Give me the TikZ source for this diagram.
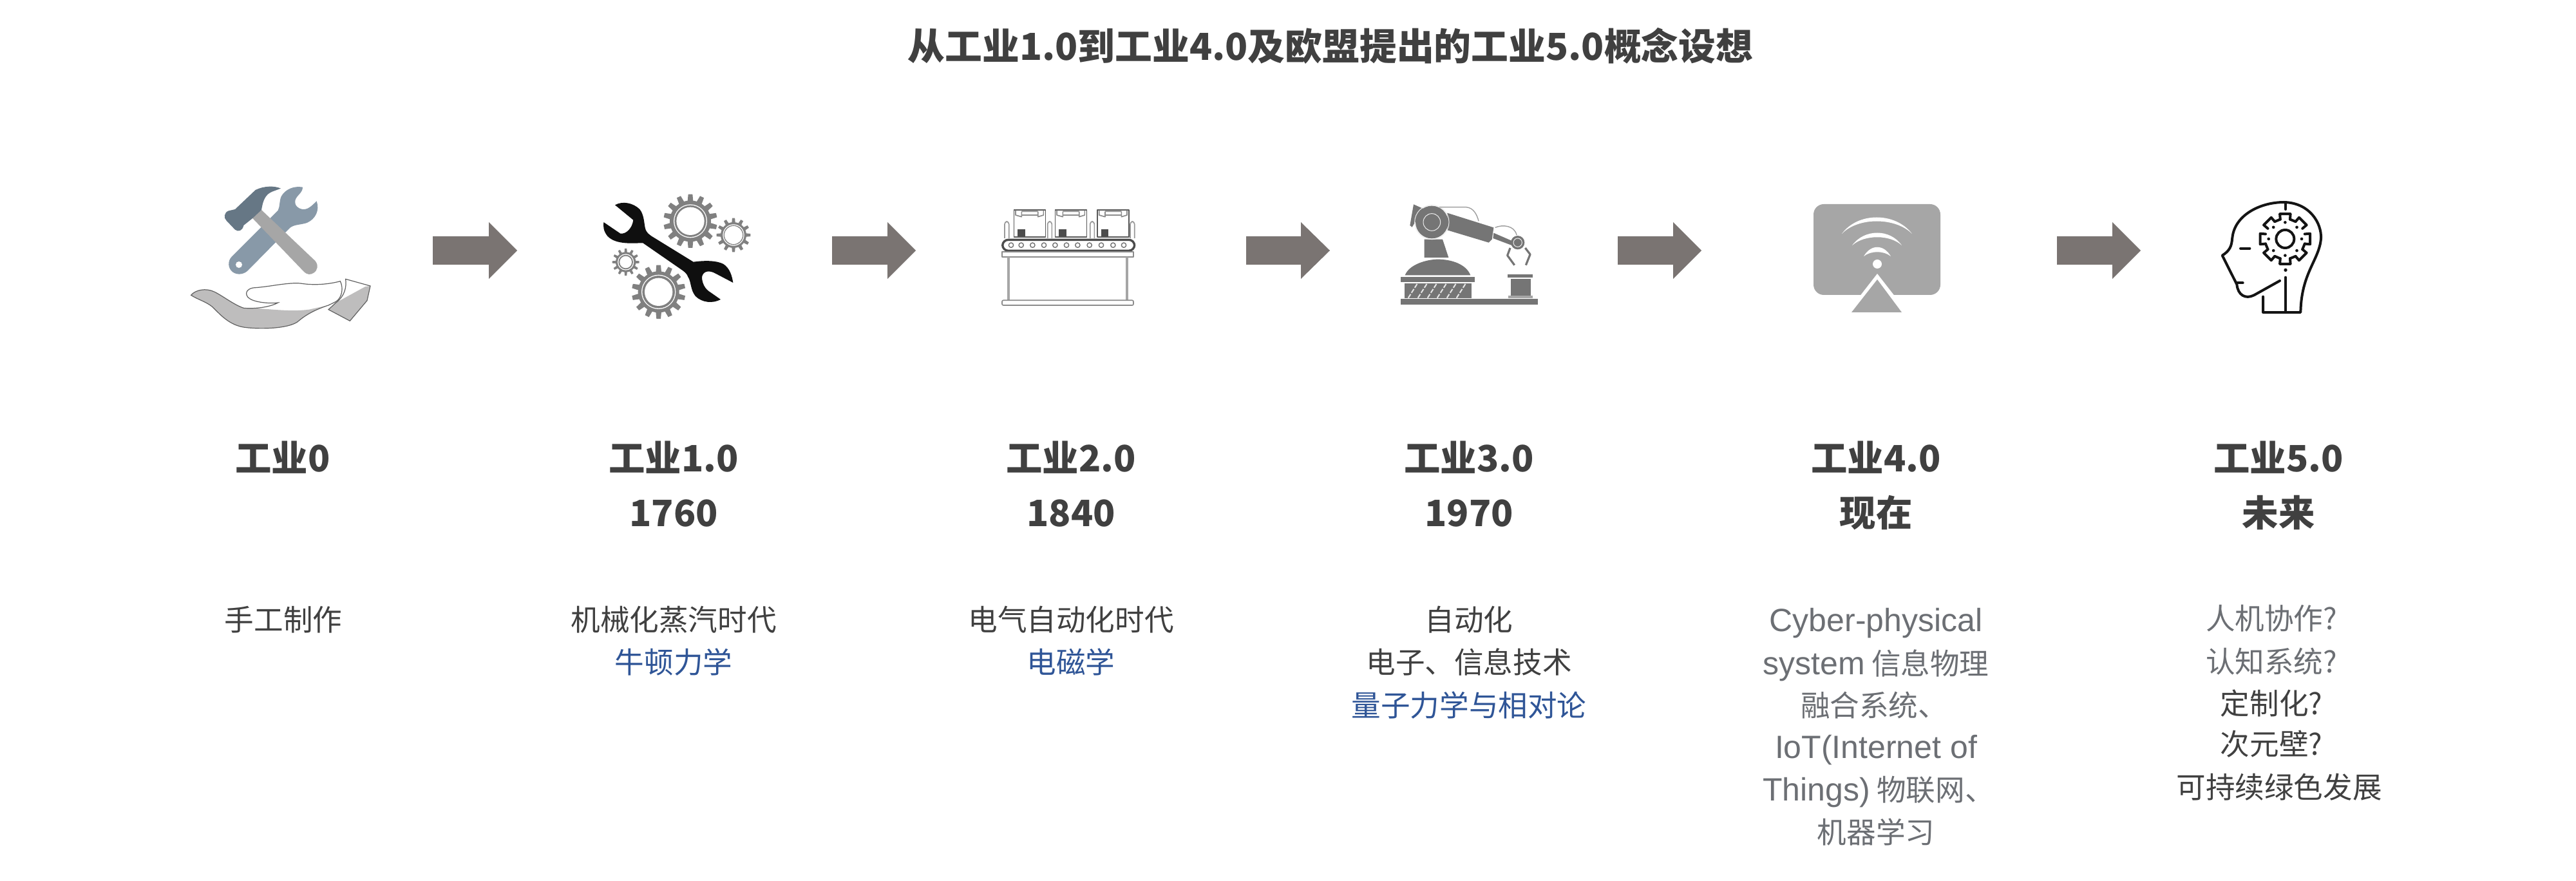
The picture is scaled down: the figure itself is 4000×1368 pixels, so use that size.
\documentclass[tikz,border=0pt]{standalone}
\usepackage{fontspec}
\usetikzlibrary{calc}
\setmainfont{Noto Sans CJK SC}
\newfontfamily\latinlight{Liberation Sans}
\definecolor{titlec}{HTML}{404040}
\definecolor{bodyc}{HTML}{404040}
\definecolor{bluec}{HTML}{2F5597}
\definecolor{grayc}{HTML}{6C6F74}
\definecolor{arrowc}{HTML}{7A7472}
\definecolor{wrenchc}{HTML}{8899A8}
\definecolor{hammerc}{HTML}{667785}
\definecolor{handlec}{HTML}{A6A6A6}
\definecolor{handc}{HTML}{BEBDBD}
\definecolor{gearc}{HTML}{808080}
\definecolor{robotc}{HTML}{757575}
\tikzset{
  titletext/.style={anchor=base,inner sep=0pt,text=titlec,font=\fontsize{28.9}{30}\selectfont\bfseries},
  headtext/.style={anchor=base,inner sep=0pt,text=titlec,font=\fontsize{28.2}{30}\selectfont\bfseries},
  bodytext/.style={anchor=base,inner sep=0pt,text=bodyc,font=\fontsize{22.8}{24}\selectfont},
  bluetext/.style={bodytext,text=bluec},
  graytext/.style={bodytext,text=grayc},
  blockarrow/.style={fill=arrowc,draw=none},
  zoomed/.style={x=0.16667pt,y=-0.16667pt},
  outlinegray/.style={draw=black!62,line width=0.6pt},
  convline/.style={draw=#1,line width=0.85pt,line join=round},
  headline/.style={draw=black!92,line width=2pt,line cap=round,line join=round},
}
\newcommand\lat[1]{{\latinlight\fontsize{25}{26}\selectfont #1}}
\newcommand\blockarrowat[3]{\fill[blockarrow] (#1,367) -- (#2,367) -- (#2,345) -- (#3,389) -- (#2,433) -- (#2,411) -- (#1,411) -- cycle;}
% cx cy R root ring hole teeth
\newcommand\gearglyph[7]{%
  \begin{scope}[shift={(#1,#2)}]
    \fill[gearc] (0,0) circle (#4);
    \foreach \t in {1,...,#7}{%
      \pgfmathsetmacro\ang{\t*360/#7}%
      \pgfmathsetmacro\wa{0.135*#4}%
      \pgfmathsetmacro\wb{0.105*#4}%
      \pgfmathsetmacro\ra{#4-3}%
      \fill[gearc,rotate=\ang] (-\wa,\ra) -- (\wa,\ra) -- (\wb,#3) -- (-\wb,#3) -- cycle;
    }
    \fill[white] (0,0) circle (#5);
    \fill[gearc] (0,0) circle (#5-4);
    \fill[white] (0,0) circle (#6);
  \end{scope}}
\begin{document}
\begin{tikzpicture}[x=0.5pt,y=-0.5pt]
\useasboundingbox (0,0) rectangle (4000,1368);
\fill[white] (0,0) rectangle (4000,1368);

% title
\node[titletext] (title) at (2066,94) {从工业1.0到工业4.0及欧盟提出的工业5.0概念设想};

% arrows
\blockarrowat{672}{759}{803}
\blockarrowat{1292}{1378}{1422}
\blockarrowat{1935}{2020}{2065}
\blockarrowat{2512}{2598}{2642}
\blockarrowat{3194}{3280}{3324}

% icon 0: tools in a hand
\begin{scope}[shift={(280,270)},zoomed]
  \fill[wrenchc] (570,62) .. controls (530,55) and (490,70) .. (470,105)
     .. controls (460,130) and (465,150) .. (455,170) -- (240,385)
     .. controls (220,405) and (220,440) .. (245,458)
     .. controls (270,475) and (300,465) .. (315,450) -- (510,252)
     .. controls (530,235) and (560,238) .. (590,228)
     .. controls (630,210) and (650,170) .. (635,127)
     .. controls (620,140) and (600,165) .. (575,165)
     .. controls (550,165) and (530,145) .. (535,125)
     .. controls (540,100) and (570,90) .. (570,62) -- cycle;
  \fill[white] (273,423) circle (15);
  \fill[handlec] (335,205) -- (378,168) -- (628,405)
     .. controls (645,425) and (640,450) .. (620,462)
     .. controls (605,472) and (590,468) .. (578,458) -- cycle;
  \fill[hammerc] (468,68) .. controls (440,55) and (390,55) .. (350,75)
     -- (255,165) -- (225,172) .. controls (205,178) and (200,205) .. (215,218)
     -- (255,260) .. controls (270,272) and (290,265) .. (295,240)
     -- (335,208) -- (378,168) .. controls (385,125) and (395,95) .. (430,82) -- cycle;
  % hand
  \fill[handc] (50,565) .. controls (70,540) and (120,530) .. (160,550)
     .. controls (200,570) and (250,610) .. (295,625)
     .. controls (400,625) and (500,645) .. (600,632) -- (690,612)
     .. controls (620,635) and (580,660) .. (545,690)
     .. controls (500,720) and (380,725) .. (300,715)
     .. controls (230,705) and (190,660) .. (150,620)
     .. controls (120,595) and (80,585) .. (50,565) -- cycle;
  \draw[outlinegray] (50,565) .. controls (70,540) and (120,530) .. (160,550)
     .. controls (200,570) and (250,610) .. (295,625)
     .. controls (350,630) and (420,620) .. (455,600)
     .. controls (420,605) and (340,600) .. (315,575)
     .. controls (295,550) and (320,530) .. (350,530)
     .. controls (420,525) and (500,505) .. (560,510)
     .. controls (620,520) and (690,515) .. (745,500)
     .. controls (760,530) and (755,575) .. (725,595)
     -- (690,612)
     .. controls (620,635) and (580,660) .. (545,690)
     .. controls (500,720) and (380,725) .. (300,715)
     .. controls (230,705) and (190,660) .. (150,620)
     .. controls (120,595) and (80,585) .. (50,565) -- cycle;
  \fill[handc] (862,525) -- (885,522) -- (870,590) -- (790,685) -- (690,632) -- (725,600) -- cycle;
  \draw[outlinegray] (770,490) -- (885,522) -- (870,590) -- (790,685) -- (690,632)
     -- (725,600) .. controls (765,570) and (775,530) .. (770,490) -- cycle;
\end{scope}

% icon 1: wrench and gears
\begin{scope}[shift={(920,290)},zoomed]
  \gearglyph{456}{160}{125}{96}{78}{65}{14}
  \gearglyph{657}{225}{79}{60}{50}{42}{12}
  \gearglyph{155}{351}{63}{47}{38}{28}{12}
  \gearglyph{308}{490}{125}{96}{80}{65}{14}
  \fill[black!88!gray] (105,85) .. controls (140,65) and (190,75) .. (220,105)
     .. controls (240,130) and (240,165) .. (245,190)
     .. controls (250,215) and (265,222) .. (275,230) -- (470,350)
     .. controls (510,345) and (570,340) .. (610,360)
     .. controls (640,380) and (650,415) .. (655,447)
     -- (575,405) .. controls (540,385) and (515,395) .. (510,420)
     .. controls (510,450) and (525,478) .. (550,492) -- (597,525)
     .. controls (560,545) and (510,540) .. (480,510)
     .. controls (455,480) and (460,440) .. (445,420)
     .. controls (440,405) and (430,398) .. (420,390) -- (235,262)
     .. controls (190,262) and (110,272) .. (70,230)
     .. controls (50,205) and (50,185) .. (52,165)
     -- (130,218) .. controls (155,222) and (185,195) .. (190,155)
     -- (105,85) -- cycle;
\end{scope}

% icon 2: conveyor
\begin{scope}[shift={(1540,310)},zoomed]
  \foreach \bx in {103,295,492}{
    \draw[convline=black!65] (\bx,175) -- (\bx,48) -- ++(147,0) -- ++(0,127) -- cycle;
    \draw[convline=black!45] (\bx+8,50) -- ++(0,22) -- ++(28,8) -- ++(0,-25) (\bx+36,72) -- ++(76,0) (\bx+36,55) -- ++(76,0) (\bx+112,55) -- ++(0,25) -- ++(26,-8) -- ++(0,-22);
    \fill[black!70] (\bx+18,138) rectangle ++(34,34);
  }
  \foreach \rx in {60,260,458,645}{
    \draw[convline=black!40,rounded corners=2pt] (\rx,180) -- (\rx,102) -- ++(20,0) -- ++(0,78);
  }
  \draw[draw=black!70,line width=1.7pt,rounded corners=4.5pt] (50,187) rectangle (665,238);
  \foreach \rx in {90,137,190,243,295,348,400,455,510,565,615}{
    \draw[draw=black!55,line width=0.7pt] (\rx,212) circle (11);
  }
  \draw[convline=black!45] (48,244) rectangle (660,267);
  \draw[draw=black!35,line width=1.9pt] (77,268) -- (77,468) (631,268) -- (631,468);
  \draw[convline=black!45,rounded corners=1pt] (48,469) rectangle (660,492);
\end{scope}

% icon 3: robot arm
\begin{scope}[shift={(2160,300)},zoomed]
  \fill[robotc] (45,390) rectangle (390,415);
  \fill[robotc] (65,382) .. controls (85,330) and (170,308) .. (218,308) .. controls (280,308) and (350,330) .. (370,382) -- cycle;
  \fill[robotc] (62,420) rectangle (375,490);
  \foreach \hx in {80,125,170,215,260,305}{
    \draw[draw=white!80!gray,line width=1pt,dash pattern=on 3.5pt off 1.2pt] (\hx,488) -- ++(42,-66);
  }
  \fill[robotc] (45,492) rectangle (685,520);
  \fill[robotc] (155,215) -- (240,215) -- (268,300) -- (155,300) -- cycle;
  \fill[robotc] (105,52) -- (150,72) -- (115,130) -- (98,158) -- (88,150) -- cycle;
  \fill[robotc] (262,92) -- (478,160) -- (470,215) -- (455,230) -- (262,172) -- cycle;
  \fill[robotc] (190,135) circle (76);
  \draw[white!85!gray,line width=0.5pt] (190,135) circle (40);
  \draw[white!85!gray,line width=0.5pt] (190,135) circle (80);
  \draw[robotc!70,line width=0.7pt] (225,65) -- (350,65) .. controls (385,68) and (400,100) .. (408,130);
  \fill[robotc] (478,185) -- (570,225) -- (560,242) -- (475,210) -- cycle;
  \draw[robotc!70,line width=0.7pt] (485,160) .. controls (520,145) and (575,150) .. (585,195);
  \fill[robotc] (590,230) circle (32);
  \draw[white!85!gray,line width=0.5pt] (590,230) circle (20);
  \draw[robotc,line width=1.6pt,line join=round] (555,255) -- (542,290) -- (575,335) (625,255) -- (648,285) -- (628,335);
  \fill[robotc] (542,378) rectangle (660,392);
  \fill[robotc] (558,400) rectangle (650,478);
  \fill[robotc!65] (545,478) rectangle (660,490);
\end{scope}

% icon 4: wireless display
\fill[handlec,rounded corners=8pt] (2816,317) rectangle (3013,458);
\fill[white] (2915,425) -- (2950,470) -- (2880,470) -- cycle;
\fill[handlec] (2915,434) -- (2953,485) -- (2875,485) -- cycle;
\fill[white] (2860,363) .. controls (2885,329) and (2943,329) .. (2969,363)
   .. controls (2943,337) and (2885,337) .. (2860,363) -- cycle;
\fill[white] (2876,381) .. controls (2895,355) and (2935,355) .. (2953,381)
   .. controls (2935,364) and (2895,364) .. (2876,381) -- cycle;
\fill[white] (2894,398) .. controls (2905,379) and (2925,379) .. (2936,398)
   .. controls (2925,389) and (2905,389) .. (2894,398) -- cycle;
\fill[white] (2915,410) circle (7);

% icon 5: head with gear
\begin{scope}[shift={(3430,300)},zoomed]
  \draw[headline] (330,408) -- (210,475) .. controls (170,495) and (135,475) .. (130,425)
     -- (62,290) .. controls (110,260) and (105,230) .. (110,200)
     .. controls (125,100) and (240,42) .. (350,42)
     .. controls (470,45) and (525,140) .. (522,210)
     .. controls (515,310) and (430,370) .. (427,555) -- (252,555) -- (252,482);
  \draw[headline] (130,418) -- (158,418);
  \draw[headline] (147,257) -- (190,257);
  \draw[headline] (357,392) -- (357,555);
  \draw[headline] (357,42) -- (357,75);
  \fill[black!92] (357,358) circle (8);
  \draw[headline] (355,213) circle (42);
  \foreach \ang in {0,45,...,315}{
    \fill[black!92] ($(355,213)+(\ang:77)$) circle (7);
    \draw[headline] ($(355,213)+(\ang-14:94)$) -- ($(355,213)+(\ang-12:119)$) -- ($(355,213)+(\ang+12:119)$) -- ($(355,213)+(\ang+14:94)$);
  }
  \foreach \ang in {45,90,135,180,270,315}{
    \draw[headline] ($(355,213)+(\ang-31:94)$) -- ($(355,213)+(\ang-14:94)$);
  }
\end{scope}

% headings
\node[headtext] (h0a) at (439,733) {工业0};
\node[headtext] (h1a) at (1046,733) {工业1.0};
\node[headtext] (h1b) at (1046,818) {1760};
\node[headtext] (h2a) at (1663,733) {工业2.0};
\node[headtext] (h2b) at (1663,818) {1840};
\node[headtext] (h3a) at (2281,733) {工业3.0};
\node[headtext] (h3b) at (2281,818) {1970};
\node[headtext] (h4a) at (2913,733) {工业4.0};
\node[headtext] (h4b) at (2913,818) {现在};
\node[headtext] (h5a) at (3538,733) {工业5.0};
\node[headtext] (h5b) at (3538,818) {未来};

% body text
\node[bodytext] (b0a) at (440,979) {手工制作};
\node[bodytext] (b1a) at (1046,979) {机械化蒸汽时代};
\node[bluetext] (b1b) at (1046,1045) {牛顿力学};
\node[bodytext] (b2a) at (1663,979) {电气自动化时代};
\node[bluetext] (b2b) at (1663,1045) {电磁学};
\node[bodytext] (b3a) at (2281,979) {自动化};
\node[bodytext] (b3b) at (2281,1045) {电子、信息技术};
\node[bluetext] (b3c) at (2281,1112) {量子力学与相对论};

\node[graytext] (b4a) at (2913,980) {\lat{Cyber-physical}};
\node[graytext] (b4b) at (2913,1047) {\lat{system} 信息物理};
\node[graytext] (b4c) at (2910,1112) {融合系统、};
\node[graytext] (b4d) at (2913,1177) {\lat{IoT(Internet of}};
\node[graytext] (b4e) at (2917,1243) {\lat{Things)} 物联网、};
\node[graytext] (b4f) at (2913,1309) {机器学习};

\node[graytext] (b5a) at (3527,977) {人机协作?};
\node[graytext] (b5b) at (3527,1044) {认知系统?};
\node[bodytext] (b5c) at (3527,1109) {定制化?};
\node[bodytext] (b5d) at (3527,1172) {次元壁?};
\node[bodytext] (b5e) at (3539,1239) {可持续绿色发展};
\end{tikzpicture}
\end{document}
